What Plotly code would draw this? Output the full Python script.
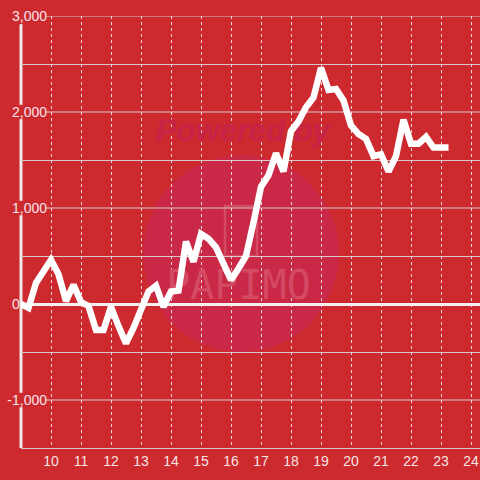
import plotly.graph_objects as go

x_values = [9.0 + 0.25 * i for i in range(58)]
y_values = [0, -40, 220, 330, 460, 310, 30, 200, 20, -20,
            -270, -270, -30, -230, -410, -250, -50, 130, 190, -30,
            130, 140, 650, 440, 730, 680, 590, 420, 250, 370,
            500, 850, 1220, 1340, 1570, 1380, 1800, 1900, 2050, 2150,
            2460, 2230, 2240, 2120, 1860, 1770, 1720, 1540, 1560, 1380,
            1540, 1920, 1670, 1670, 1740, 1630, 1630, 1630]
y_ticks = [-1000, 0, 1000, 2000, 3000]
y_tick_text = ["-1,000", "0" + "\u00a0" * 7, "1,000", "2,000", "3,000"]
x_ticks = list(range(10, 25))

BG = "#cd2a2f"
GRID = "#d8c8c8"
fig = go.Figure()

# watermark texts (drawn beneath the data line)
fig.add_trace(go.Scatter(x=[16.4], y=[1781], mode="text",
                         text=["<b><i>Powered by</i></b>"], textposition="middle center",
                         textfont=dict(family="Liberation Sans", size=31, color="#c62346"),
                         hoverinfo="skip"))
fig.add_trace(go.Scatter(x=[16.25], y=[156], mode="text",
                         text=["PAPIMO"], textposition="middle center",
                         textfont=dict(family="DejaVu Sans Mono", size=40, color="#d44a62"),
                         hoverinfo="skip"))

fig.add_trace(go.Scatter(x=x_values, y=y_values, mode="lines",
                         line=dict(color="white", width=6.5),
                         hoverinfo="skip"))

fig.add_shape(type="circle", xref="paper", yref="paper",
              x0=0.266, x1=0.693, y0=0.222, y1=0.678,
              fillcolor="#c92846", line_width=0, layer="below")
fig.add_shape(type="rect", xref="paper", yref="paper",
              x0=(225 - 21) / 459, x1=(257 - 21) / 459,
              y0=(448 - 256) / 432, y1=(448 - 206) / 432,
              line=dict(color="#d44a60", width=2.5), layer="below")

# major gridlines (start right of the labels) and axis line with label gaps
for v in y_ticks:
    if v != 0:
        fig.add_shape(type="line", xref="paper", yref="y",
                      x0=(45 - 21) / 459, x1=1, y0=v, y1=v,
                      line=dict(color=GRID, width=1), layer="below")
segs = [(-1500, -1075), (-925, 925), (1075, 1925), (2075, 2915)]
for a, b in segs:
    fig.add_shape(type="line", xref="paper", yref="y", x0=0, x1=0, y0=a, y1=b,
                  line=dict(color="#eeeaea", width=3), layer="below")

fig.update_layout(
    width=480, height=480,
    margin=dict(l=21, r=0, t=16, b=32),
    paper_bgcolor=BG, plot_bgcolor=BG,
    showlegend=False,
    font=dict(family="Liberation Sans", size=14, color="#f6e4e4"),
    xaxis=dict(range=[9, 24.3], tickvals=x_ticks, showgrid=True,
               gridcolor="#eed6d6", griddash="dot", gridwidth=1,
               showline=True, linecolor="#d8c4c4", linewidth=1,
               zeroline=False, ticks="", fixedrange=True, automargin=False),
    yaxis=dict(range=[-1500, 3000], tickvals=y_ticks, ticktext=y_tick_text,
               showgrid=False,
               minor=dict(tickvals=[-500, 500, 1500, 2500], showgrid=True,
                          gridcolor=GRID, gridwidth=1),
               zeroline=True, zerolinecolor="#f4f0f0", zerolinewidth=3,
               showline=False,
               ticks="", ticklabelstandoff=-27, fixedrange=True, automargin=False),
)
fig.write_html("out.html", config={"displayModeBar": False},
               post_script="document.body.style.margin='0';document.body.style.overflow='hidden';")
